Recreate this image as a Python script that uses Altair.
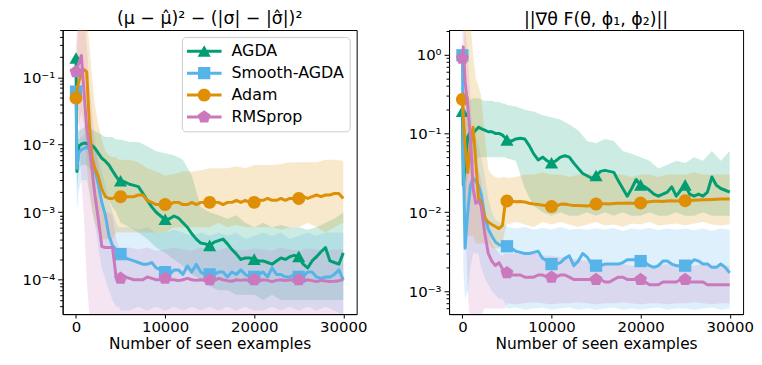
import altair as alt
import pandas as pd
import numpy as np

METHODS = ["AGDA", "Smooth-AGDA", "Adam", "RMSprop"]
COLORS = ["#029e73", "#56b4e9", "#de8f05", "#cc78bc"]

X_EARLY = [0, 100, 300, 600, 900, 1200, 1500, 1800, 2100, 2500, 2900, 3300, 3700, 4100, 4500, 4800]
X_LINE = X_EARLY + list(range(5000, 30001, 500))
X_BAND = X_EARLY + list(range(5000, 30001, 1000))
MARKER_X = [0, 5000, 10000, 15000, 20000, 25000]

# ---------------- left panel: mean curves ----------------
AGDA_L = [0.19, 0.004, 0.0095, 0.0102, 0.0106, 0.0104, 0.01, 0.0098, 0.009, 0.0075, 0.0063, 0.0057, 0.005, 0.0041, 0.0034, 0.003,
          0.0029, 0.0028, 0.0026, 0.0025, 0.0024, 0.0019, 0.0015, 0.0012, 0.001, 0.00088,
          0.00078, 0.0008, 0.00088, 0.00082, 0.0007, 0.0006, 0.00048, 0.0004, 0.00035, 0.00034,
          0.00032, 0.00036, 0.00038, 0.0004, 0.00034, 0.00028, 0.00024, 0.0002, 0.00021, 0.00021,
          0.0002, 0.00019, 0.00019, 0.00018, 0.00017, 0.00019, 0.00021, 0.0002, 0.00022, 0.00023,
          0.00022, 0.00017, 0.00015, 0.00019, 0.00022, 0.00026, 0.0003, 0.00019, 0.00018, 0.00017,
          0.00025]
SMOOTH_L = [0.061, 0.0045, 0.0075, 0.0085, 0.0088, 0.0092, 0.0085, 0.0058, 0.0043, 0.0026, 0.0014, 0.0009, 0.00045, 0.00032, 0.00028, 0.00025,
            0.00024, 0.00021, 0.0002, 0.00019, 0.00018, 0.00017, 0.00017, 0.00018, 0.00015, 0.00014,
            0.00013, 0.00012, 0.00014, 0.00014, 0.00012, 0.00016, 0.00013, 0.00017, 0.00013, 0.00012,
            0.00012, 0.00012, 0.00013, 0.00013, 0.00011, 0.00013, 0.00012, 0.00014, 0.00012, 0.00011,
            0.00011, 0.00012, 0.00013, 0.00011, 0.00015, 0.00012, 0.00012, 0.00011, 0.00011, 0.00012,
            0.00011, 0.00011, 0.00013, 0.00013, 0.00011, 0.000105, 0.00011, 0.00011, 0.00012, 0.00014,
            0.0001]
ADAM_L = [0.049, 0.065, 0.085, 0.11, 0.13, 0.12, 0.02, 0.0065, 0.0045, 0.0034, 0.0022, 0.0017, 0.0016, 0.0016, 0.0017, 0.0017,
          0.0017, 0.0017, 0.0017, 0.0017, 0.0018, 0.0018, 0.0015, 0.0014, 0.0013, 0.0013,
          0.0013, 0.0013, 0.0014, 0.0014, 0.0013, 0.0013, 0.0014, 0.0013, 0.0014, 0.0014,
          0.0014, 0.0014, 0.0014, 0.0013, 0.0014, 0.0014, 0.0015, 0.0014, 0.0015, 0.0014,
          0.0014, 0.0015, 0.0015, 0.0016, 0.0015, 0.0015, 0.0016, 0.0015, 0.0016, 0.0016,
          0.0016, 0.0017, 0.0016, 0.0017, 0.0018, 0.0017, 0.0018, 0.0018, 0.0019, 0.0019,
          0.0016]
RMS_L = [0.12, 0.13, 0.16, 0.21, 0.06, 0.018, 0.009, 0.0042, 0.0019, 0.0008, 0.00031, 0.0003, 0.0003, 0.0003, 0.00011, 0.000105,
         0.000105, 0.00011, 0.000105, 0.0001, 0.0001, 0.0001, 0.00011, 0.000105, 0.0001, 0.0001,
         0.000105, 0.0001, 0.0001, 0.000097, 0.0001, 0.000105, 0.0001, 0.000098, 0.0001, 0.000097,
         0.0001, 0.000097, 0.000105, 0.0001, 0.000097, 0.000095, 0.0001, 0.000098, 0.0001, 0.000097,
         0.0001, 0.000096, 0.0001, 0.000098, 0.000094, 0.000098, 0.0001, 0.000097, 0.0001, 0.000098,
         0.0001, 0.000096, 0.0001, 0.000097, 0.000094, 0.000098, 0.000096, 0.000094, 0.000095, 0.000097,
         0.0001]

# ---------------- right panel: mean curves ----------------
AGDA_R = [0.19, 0.022, 0.04, 0.09, 0.105, 0.1, 0.11, 0.12, 0.115, 0.11, 0.105, 0.105, 0.1, 0.1, 0.095, 0.088,
          0.082, 0.08, 0.085, 0.087, 0.085, 0.07, 0.055, 0.046, 0.05, 0.045,
          0.042, 0.045, 0.05, 0.052, 0.05, 0.042, 0.036, 0.031, 0.029, 0.027,
          0.029, 0.033, 0.034, 0.033, 0.032, 0.025, 0.02, 0.016, 0.02, 0.026,
          0.022, 0.021, 0.019, 0.017, 0.016, 0.017, 0.018, 0.021, 0.016, 0.019,
          0.022, 0.017, 0.016, 0.017, 0.016, 0.018, 0.028, 0.022, 0.02, 0.019,
          0.018]
SMOOTH_R = [0.98, 0.05, 0.0035, 0.01, 0.022, 0.027, 0.025, 0.022, 0.017, 0.009, 0.0061, 0.005, 0.0042, 0.0039, 0.0037, 0.0037,
            0.0037, 0.0035, 0.0032, 0.0031, 0.003, 0.003, 0.0031, 0.0032, 0.0026, 0.0024,
            0.0022, 0.0022, 0.0023, 0.0026, 0.0028, 0.0021, 0.0024, 0.003, 0.0027, 0.0022,
            0.0021, 0.0021, 0.0022, 0.0022, 0.0022, 0.0022, 0.0023, 0.0025, 0.0025, 0.0025,
            0.0024, 0.0023, 0.0021, 0.002, 0.0021, 0.0024, 0.0024, 0.0022, 0.0021, 0.0021,
            0.0021, 0.0022, 0.0025, 0.0024, 0.0022, 0.0022, 0.002, 0.002, 0.0022, 0.002,
            0.0017]
ADAM_R = [0.27, 0.17, 0.07, 0.032, 0.07, 0.12, 0.045, 0.015, 0.0135, 0.0085, 0.0075, 0.007, 0.0066, 0.0062, 0.0068, 0.013,
          0.0139, 0.0138, 0.0136, 0.0137, 0.0135, 0.013, 0.0127, 0.0125, 0.0123, 0.0121,
          0.0118, 0.012, 0.0126, 0.0127, 0.0124, 0.0122, 0.0122, 0.0121, 0.012, 0.0122,
          0.0127, 0.0128, 0.0128, 0.0127, 0.0129, 0.013, 0.013, 0.0131, 0.013, 0.013,
          0.0131, 0.0134, 0.0136, 0.0138, 0.0138, 0.0137, 0.0139, 0.014, 0.0139, 0.014,
          0.014, 0.0141, 0.0142, 0.0143, 0.0144, 0.0144, 0.0145, 0.0146, 0.0147, 0.0147,
          0.0147]
RMS_R = [0.9, 1.25, 0.45, 0.22, 0.09, 0.02, 0.013, 0.014, 0.012, 0.0055, 0.003, 0.0024, 0.0021, 0.0023, 0.0019, 0.0017,
         0.0017, 0.0016, 0.0016, 0.0016, 0.0015, 0.0015, 0.0015, 0.0016, 0.0016, 0.0015,
         0.0015, 0.0015, 0.0016, 0.0016, 0.0015, 0.0014, 0.0014, 0.0014, 0.0014, 0.0014,
         0.0014, 0.0014, 0.0013, 0.0013, 0.0014, 0.0015, 0.0015, 0.0014, 0.0014, 0.0014,
         0.0014, 0.0013, 0.0012, 0.0012, 0.0012, 0.0013, 0.0013, 0.0013, 0.0013, 0.0014,
         0.0014, 0.0013, 0.0013, 0.0013, 0.0013, 0.0012, 0.0012, 0.0012, 0.0012, 0.0012,
         0.0012]

# ---------------- left panel: bands (lower, upper) ----------------
AGDA_L_LO = [0.08, 0.002, 0.004, 0.005, 0.005, 0.005, 0.0045, 0.004, 0.0035, 0.003, 0.0025, 0.002, 0.0015, 0.0012, 0.001, 0.0008,
             0.0007, 0.0006, 0.0005, 0.0004, 0.0003, 0.00025, 0.0002, 0.00016, 0.00012, 0.0001,
             0.00008, 0.00007, 0.00007, 0.00006, 0.00006, 0.00006, 0.00005, 0.00006, 0.00005, 0.00005,
             0.00005, 0.00005, 0.00005, 0.00005, 0.00005, 0.00005]
AGDA_L_HI = [0.35, 0.015, 0.016, 0.017, 0.018, 0.02, 0.018, 0.017, 0.016, 0.015, 0.014, 0.013, 0.013, 0.013, 0.012, 0.012,
             0.012, 0.011, 0.011, 0.0095, 0.008, 0.0075, 0.007, 0.006, 0.0035, 0.0012,
             0.001, 0.0009, 0.0008, 0.0009, 0.0007, 0.0006, 0.0007, 0.0006, 0.00065, 0.0006,
             0.0006, 0.00055, 0.0006, 0.0007, 0.0008, 0.001]
SMOOTH_L_LO = [0.02, 0.001, 0.002, 0.003, 0.003, 0.003, 0.002, 0.0012, 0.0007, 0.0003, 0.00015, 0.0001, 0.00007, 0.00005, 0.00004, 0.00004,
               0.000035, 0.000035, 0.00004, 0.000035, 0.00004, 0.000035, 0.00004, 0.000035, 0.00004, 0.000035,
               0.00004, 0.000035, 0.00004, 0.000035, 0.00004, 0.000035, 0.000035, 0.00004, 0.000035, 0.00004,
               0.000035, 0.00004, 0.000035, 0.00004, 0.000035, 0.00003]
SMOOTH_L_HI = [0.1, 0.012, 0.012, 0.013, 0.014, 0.015, 0.014, 0.011, 0.009, 0.006, 0.004, 0.0025, 0.0015, 0.001, 0.0007, 0.0006,
               0.0006, 0.0006, 0.00055, 0.0006, 0.0005, 0.0005, 0.00055, 0.0005, 0.00045, 0.0005,
               0.00045, 0.0005, 0.00045, 0.0005, 0.0004, 0.00045, 0.0005, 0.00045, 0.0005, 0.0004,
               0.00045, 0.0005, 0.00045, 0.0005, 0.0005, 0.0005]
ADAM_L_LO = [0.02, 0.02, 0.02, 0.03, 0.02, 0.005, 0.002, 0.001, 0.0007, 0.0005, 0.0004, 0.0004, 0.0004, 0.0004, 0.0005, 0.0005,
             0.0005, 0.0005, 0.0005, 0.0005, 0.0005, 0.0005, 0.0006, 0.0006, 0.0006, 0.0006,
             0.0006, 0.0007, 0.0006, 0.00065, 0.0006, 0.0006, 0.0006, 0.0006, 0.00055, 0.0006,
             0.0006, 0.0007, 0.0006, 0.0005, 0.0006, 0.0007]
ADAM_L_HI = [0.1, 0.2, 0.8, 1.0, 1.0, 0.8, 0.3, 0.1, 0.04, 0.02, 0.012, 0.008, 0.007, 0.0065, 0.0065, 0.006,
             0.006, 0.006, 0.0055, 0.0045, 0.004, 0.0035, 0.0037, 0.004, 0.004, 0.0042,
             0.0045, 0.0045, 0.0045, 0.0048, 0.0045, 0.005, 0.005, 0.005, 0.0052, 0.0055,
             0.0055, 0.0055, 0.0055, 0.006, 0.006, 0.0058]
RMS_L_LO = [0.05, 0.04, 0.03, 0.003, 0.0008, 0.0001, 0.00003, 0.00002, 0.00002, 0.00002, 0.00002, 0.00002, 0.00002, 0.00002, 0.00002, 0.00002,
            0.00002, 0.00002, 0.00002, 0.00002, 0.00002, 0.00002, 0.00002, 0.00002, 0.00002, 0.00002,
            0.00002, 0.00002, 0.00002, 0.00002, 0.00002, 0.00002, 0.00002, 0.00002, 0.00002, 0.00002,
            0.00002, 0.00002, 0.00002, 0.00002, 0.00002, 0.00002]
RMS_L_HI = [0.3, 0.5, 1.0, 1.0, 0.8, 0.3, 0.08, 0.03, 0.012, 0.005, 0.0015, 0.001, 0.001, 0.0009, 0.0004, 0.0003,
            0.0003, 0.0003, 0.00028, 0.0003, 0.00027, 0.00028, 0.0003, 0.00028, 0.00027, 0.0003,
            0.00028, 0.00027, 0.0003, 0.00028, 0.00027, 0.00029, 0.00028, 0.00027, 0.0003, 0.00028,
            0.00027, 0.00029, 0.00028, 0.00027, 0.00028, 0.00028]

# ---------------- right panel: bands (lower, upper) ----------------
AGDA_R_LO = [0.1, 0.01, 0.015, 0.03, 0.04, 0.04, 0.045, 0.05, 0.05, 0.05, 0.05, 0.05, 0.05, 0.05, 0.05, 0.05,
             0.048, 0.045, 0.02, 0.012, 0.01, 0.009, 0.01, 0.009, 0.009, 0.01,
             0.009, 0.01, 0.009, 0.01, 0.009, 0.009, 0.01, 0.009, 0.009, 0.01,
             0.009, 0.009, 0.01, 0.009, 0.009, 0.009]
AGDA_R_HI = [0.3, 0.05, 0.15, 0.25, 0.27, 0.28, 0.28, 0.28, 0.27, 0.26, 0.26, 0.26, 0.25, 0.25, 0.24, 0.24,
             0.23, 0.22, 0.2, 0.19, 0.17, 0.16, 0.15, 0.13, 0.11, 0.08,
             0.075, 0.085, 0.08, 0.06, 0.055, 0.05, 0.045, 0.036, 0.04, 0.045,
             0.042, 0.05, 0.045, 0.06, 0.045, 0.06]
SMOOTH_R_LO = [0.2, 0.002, 0.0008, 0.001, 0.002, 0.003, 0.003, 0.003, 0.002, 0.0015, 0.0012, 0.001, 0.0009, 0.0008, 0.0008, 0.0007,
               0.0006, 0.00062, 0.00058, 0.0006, 0.00062, 0.00058, 0.0006, 0.00062, 0.00058, 0.0006,
               0.00058, 0.0006, 0.00062, 0.00058, 0.0006, 0.00058, 0.0006, 0.00062, 0.00058, 0.0006,
               0.0006, 0.00058, 0.0006, 0.00062, 0.00058, 0.0006]
SMOOTH_R_HI = [1.5, 0.5, 0.03, 0.05, 0.08, 0.1, 0.09, 0.07, 0.05, 0.03, 0.015, 0.01, 0.008, 0.0075, 0.007, 0.007,
               0.0065, 0.0062, 0.0065, 0.006, 0.0063, 0.006, 0.0065, 0.006, 0.0062, 0.006,
               0.0062, 0.006, 0.0063, 0.0058, 0.0062, 0.006, 0.0063, 0.0059, 0.0062, 0.006,
               0.0062, 0.0059, 0.0062, 0.0058, 0.0062, 0.006]
ADAM_R_LO = [0.1, 0.05, 0.01, 0.005, 0.005, 0.005, 0.004, 0.004, 0.004, 0.004, 0.004, 0.0035, 0.0035, 0.0035, 0.004, 0.006,
             0.007, 0.0075, 0.007, 0.0065, 0.0075, 0.007, 0.0075, 0.007, 0.0065, 0.007,
             0.0075, 0.0068, 0.007, 0.0065, 0.0072, 0.007, 0.0075, 0.0068, 0.007, 0.0072,
             0.0068, 0.0072, 0.0075, 0.007, 0.0068, 0.007]
ADAM_R_HI = [0.5, 1.0, 2.5, 3.0, 2.5, 1.0, 0.5, 0.4, 0.3, 0.1, 0.035, 0.03, 0.028, 0.027, 0.028, 0.028,
             0.027, 0.028, 0.03, 0.03, 0.032, 0.03, 0.03, 0.028, 0.03, 0.03,
             0.03, 0.032, 0.03, 0.03, 0.028, 0.03, 0.03, 0.028, 0.03, 0.03,
             0.03, 0.032, 0.03, 0.03, 0.03, 0.03]
RMS_R_LO = [0.3, 0.1, 0.01, 0.001, 0.0003, 0.0003, 0.0004, 0.0005, 0.0005, 0.0006, 0.0006, 0.0006, 0.0006, 0.0006, 0.0006, 0.0006,
            0.0007, 0.00068, 0.0007, 0.00072, 0.0007, 0.00068, 0.0007, 0.0007, 0.00072, 0.0007,
            0.00068, 0.0007, 0.0007, 0.00072, 0.0007, 0.00068, 0.0007, 0.0007, 0.00068, 0.0007,
            0.0007, 0.00072, 0.0007, 0.00068, 0.0007, 0.0007]
RMS_R_HI = [2.5, 3.0, 2.5, 1.0, 0.3, 0.05, 0.04, 0.035, 0.025, 0.012, 0.006, 0.004, 0.0035, 0.003, 0.0028, 0.003,
            0.003, 0.003, 0.0029, 0.003, 0.0028, 0.0028, 0.0027, 0.0026, 0.0025, 0.0024,
            0.0023, 0.0022, 0.0022, 0.0022, 0.0021, 0.0022, 0.0021, 0.0021, 0.0022, 0.0021,
            0.0021, 0.0021, 0.0022, 0.0021, 0.0021, 0.0021]

LINES = {
    "left": dict(zip(METHODS, [AGDA_L, SMOOTH_L, ADAM_L, RMS_L])),
    "right": dict(zip(METHODS, [AGDA_R, SMOOTH_R, ADAM_R, RMS_R])),
}
BANDS = {
    "left": dict(zip(METHODS, [(AGDA_L_LO, AGDA_L_HI), (SMOOTH_L_LO, SMOOTH_L_HI),
                               (ADAM_L_LO, ADAM_L_HI), (RMS_L_LO, RMS_L_HI)])),
    "right": dict(zip(METHODS, [(AGDA_R_LO, AGDA_R_HI), (SMOOTH_R_LO, SMOOTH_R_HI),
                                (ADAM_R_LO, ADAM_R_HI), (RMS_R_LO, RMS_R_HI)])),
}


def line_frame(panel):
    rows = []
    for m, vals in LINES[panel].items():
        assert len(vals) == len(X_LINE), (panel, m, len(vals))
        for x, v in zip(X_LINE, vals):
            rows.append({"method": m, "x": x, "v": v, "marker": x in MARKER_X})
    return pd.DataFrame(rows)


def band_frame(panel):
    rows = []
    for m, (lo, hi) in BANDS[panel].items():
        assert len(lo) == len(X_BAND) and len(hi) == len(X_BAND), (panel, m, len(lo), len(hi))
        for x, a, b in zip(X_BAND, lo, hi):
            rows.append({"method": m, "x": x, "lo": a, "hi": b})
    return pd.DataFrame(rows)


# ---------------- marker shapes ----------------
def poly_path(points, s=1.0):
    return "M" + "L".join(f"{px * s:.3f},{py * s:.3f}" for px, py in points) + "Z"


TRI_PTS = [(0, -0.95), (1.02, 0.85), (-1.02, 0.85)]
SQ_PTS = [(-0.95, -0.95), (0.95, -0.95), (0.95, 0.95), (-0.95, 0.95)]
CIR_PTS = [(np.cos(a), np.sin(a)) for a in np.linspace(0, 2 * np.pi, 24, endpoint=False)]
PEN_PTS = [(1.05 * np.sin(a), -1.05 * np.cos(a)) for a in np.linspace(0, 2 * np.pi, 5, endpoint=False)]
MARKER_PTS = [TRI_PTS, SQ_PTS, CIR_PTS, PEN_PTS]
MARKER_PATHS = [poly_path(p) for p in MARKER_PTS]
LEG_SCALE = 6.5 / 17.5
LEG_LINE = "M-1,-0.086L1,-0.086L1,0.086L-1,0.086Z"
LEGEND_PATHS = [LEG_LINE + poly_path(p, LEG_SCALE) for p in MARKER_PTS]

FONT = "DejaVu Sans"
TEST_MAJOR = "abs(log(datum.value)/LN10 - round(log(datum.value)/LN10)) < 0.001"
SUP = {-5: "⁻⁵", -4: "⁻⁴", -3: "⁻³", -2: "⁻²", -1: "⁻¹", 0: "⁰"}


def y_ticks(lo, hi):
    vals = []
    for e in range(-6, 2):
        for k in range(1, 10):
            v = float(f"{k}e{e}")
            if lo <= v <= hi:
                vals.append(v)
    return vals


def label_expr():
    expr = "''"
    for e, s in SUP.items():
        expr = f"(round(log(datum.value)/LN10) == {e} ? '10{s}' : {expr})"
    return f"{TEST_MAJOR} ? {expr} : ''"


PW, PH = 296, 286
X_SCALE = alt.Scale(domain=[-1500, 31500], nice=False, zero=False)
X_AXIS = alt.Axis(values=[0, 10000, 20000, 30000], format="d", tickSize=4, labelFontSize=15,
                  labelPadding=2, labelFlush=False, title="Number of seen examples",
                  titleFontSize=15.5, titlePadding=2, grid=False)
COLOR_SCALE = alt.Scale(domain=METHODS, range=COLORS)
LEG = dict(title=None, orient="top-right", offset=7, fillColor="rgba(255,255,255,0.85)",
           strokeColor="#cccccc", cornerRadius=4, padding=5, symbolSize=1225,
           symbolStrokeWidth=0, labelFontSize=16, labelFont=FONT, labelColor="black",
           rowPadding=3, clipHeight=19, labelOffset=10, symbolOpacity=1)


def panel(name, ydomain, title, with_legend):
    lines_df = line_frame(name)
    bands_df = band_frame(name)
    yscale = alt.Scale(type="log", domain=ydomain, nice=False)
    yaxis = alt.Axis(values=y_ticks(*ydomain), labelExpr=label_expr(),
                     tickSize={"condition": {"test": TEST_MAJOR, "value": 5}, "value": 3},
                     labelFontSize=15, labelPadding=3, grid=False, title=None)
    x = alt.X("x:Q", scale=X_SCALE, axis=X_AXIS)
    if with_legend:
        color = alt.Color("method:N", scale=COLOR_SCALE)
    else:
        color = alt.Color("method:N", scale=COLOR_SCALE, legend=None)

    layers = []
    if with_legend:
        # empty layer whose only job is to carry the combined line+marker legend
        layers.append(
            alt.Chart(lines_df).transform_filter("datum.x < -100000")
            .mark_point(filled=True, size=1225, opacity=1)
            .encode(
                x=x, y=alt.Y("v:Q", scale=yscale, axis=yaxis),
                color=alt.Color("method:N", scale=COLOR_SCALE, legend=alt.Legend(**LEG)),
                shape=alt.Shape("method:N", scale=alt.Scale(domain=METHODS, range=LEGEND_PATHS),
                                legend=alt.Legend(**LEG)),
            )
        )
    layers.append(
        alt.Chart(bands_df).mark_area(opacity=0.2, clip=True).encode(
            x=x, y=alt.Y("lo:Q", scale=yscale, axis=yaxis), y2="hi:Q",
            fill=alt.Fill("method:N", scale=COLOR_SCALE, legend=None))
    )
    for m, path in zip(METHODS, MARKER_PATHS):
        layers.append(
            alt.Chart(lines_df).transform_filter(alt.datum.method == m)
            .mark_line(strokeWidth=3, strokeJoin="round", clip=True)
            .encode(x=x, y=alt.Y("v:Q", scale=yscale, axis=yaxis), color=color)
        )
        layers.append(
            alt.Chart(lines_df).transform_filter(f"datum.marker && datum.method == '{m}'")
            .mark_point(shape=path, filled=True, size=169, opacity=1, clip=True)
            .encode(x=x, y=alt.Y("v:Q", scale=yscale, axis=yaxis), color=color)
        )
    return alt.layer(*layers).properties(
        width=PW, height=PH,
        title=alt.TitleParams(title, fontSize=17.5, font=FONT, fontWeight="normal", offset=2, color="black"),
    )


left = panel("left", [3.1e-5, 0.5], "(μ − μ̂)² − (|σ| − |σ̂|)²", True)
right = panel("right", [5.1e-4, 2.05], "||∇θ F(θ, ϕ₁, ϕ₂)||", False)

chart = (
    alt.hconcat(left, right, spacing=40)
    .resolve_scale(x="independent", y="independent", color="independent", shape="independent",
                   fill="independent")
    .resolve_legend(color="independent", shape="independent", fill="independent")
    .properties(padding={"left": 13, "top": 0, "right": 0, "bottom": 0})
    .configure_view(stroke="black", strokeWidth=1)
    .configure_axis(domainColor="black", tickColor="black", labelColor="black", titleColor="black",
                    labelFont=FONT, titleFont=FONT, titleFontWeight="normal", domainWidth=1, tickWidth=1)
    .configure_title(font=FONT, fontWeight="normal", color="black")
)

chart.save("out.html", embed_options={"renderer": "svg", "actions": False})
